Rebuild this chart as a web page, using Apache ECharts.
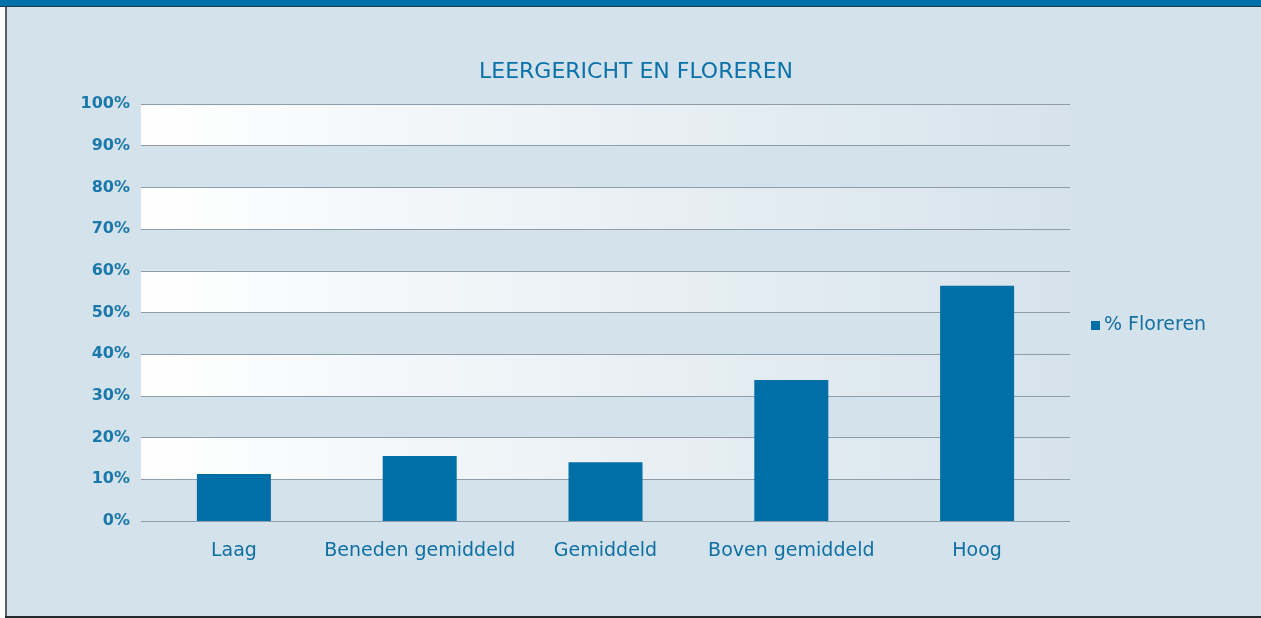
<!DOCTYPE html>
<html>
<head>
<meta charset="utf-8">
<script src="https://cdn.jsdelivr.net/npm/echarts@6/dist/echarts.min.js"></script>
<style>
html,body{margin:0;padding:0;background:#ffffff;}
#wrap{position:relative;width:1261px;height:618px;overflow:hidden;}
#chart{position:absolute;left:0;top:0;width:1261px;height:618px;}
#topbar{position:absolute;left:0;top:0;width:1261px;height:6px;background:#0070a8;border-bottom:1px solid #1d3a4c;}
#leftb{position:absolute;left:5px;top:7px;width:2px;height:611px;background:#5a5f63;}
#bottomb{position:absolute;left:5px;top:616px;width:1256px;height:2px;background:#23282c;}
#whiteL{position:absolute;left:0;top:7px;width:5px;height:611px;background:#ffffff;}
</style>
</head>
<body>
<div id="wrap">
<div id="chart"></div>
<div id="topbar"></div>
<div id="whiteL"></div>
<div id="leftb"></div>
<div id="bottomb"></div>
</div>
<script>
const titleText = 'LEERGERICHT EN FLOREREN';
const categories = ['Laag', 'Beneden gemiddeld', 'Gemiddeld', 'Boven gemiddeld', 'Hoog'];
const seriesName = '% Floreren';
const values = [11.3, 15.6, 14.1, 33.8, 56.4];
const yTicks = [0, 10, 20, 30, 40, 50, 60, 70, 80, 90, 100];

const chart = echarts.init(document.getElementById('chart'), null, {renderer: 'canvas'});
const bandGrad = new echarts.graphic.LinearGradient(0, 0, 1, 0, [
  {offset: 0, color: '#ffffff'},
  {offset: 1, color: '#d6e3ec'}
]);
chart.setOption({
  backgroundColor: '#d4e2eb',
  animation: false,
  title: {
    text: titleText,
    left: 636, top: 61, textAlign: 'center', padding: 0,
    textStyle: {color: '#0a71a9', fontFamily: 'DejaVu Sans', fontWeight: 'normal', fontSize: 22}
  },
  legend: {
    left: 1091, top: 316, orient: 'vertical', padding: 0,
    itemWidth: 9, itemHeight: 9, itemGap: 4,
    icon: 'rect',
    textStyle: {color: '#1470a3', fontFamily: 'DejaVu Sans', fontSize: 19, padding: [0,0,0,-1]},
    data: [seriesName]
  },
  grid: {left: 141, right: 191, top: 104, bottom: 97, containLabel: false},
  xAxis: {
    type: 'category', data: categories,
    axisLine: {show: false}, axisTick: {show: false},
    axisLabel: {interval: 0, color: '#0e6fa3', fontFamily: 'DejaVu Sans', fontSize: 19, margin: 21}
  },
  yAxis: {
    type: 'value', min: 0, max: 100, interval: 10,
    axisLine: {show: false}, axisTick: {show: false},
    axisLabel: {
      color: '#1a78ab', fontFamily: 'DejaVu Sans', fontWeight: 'bold', fontSize: 16, margin: 11,
      lineHeight: 16, padding: [5, 0, 0, 0],
      formatter: v => yTicks.includes(v) ? v + '%' : ''
    },
    splitLine: {show: true, lineStyle: {color: '#8d9da9', width: 1}},
    splitArea: {show: true, areaStyle: {color: ['rgba(0,0,0,0)', bandGrad]}}
  },
  series: [{
    name: seriesName, type: 'bar', data: values,
    barWidth: 74,
    itemStyle: {color: '#006fa7'}
  }]
});
</script>
</body>
</html>
